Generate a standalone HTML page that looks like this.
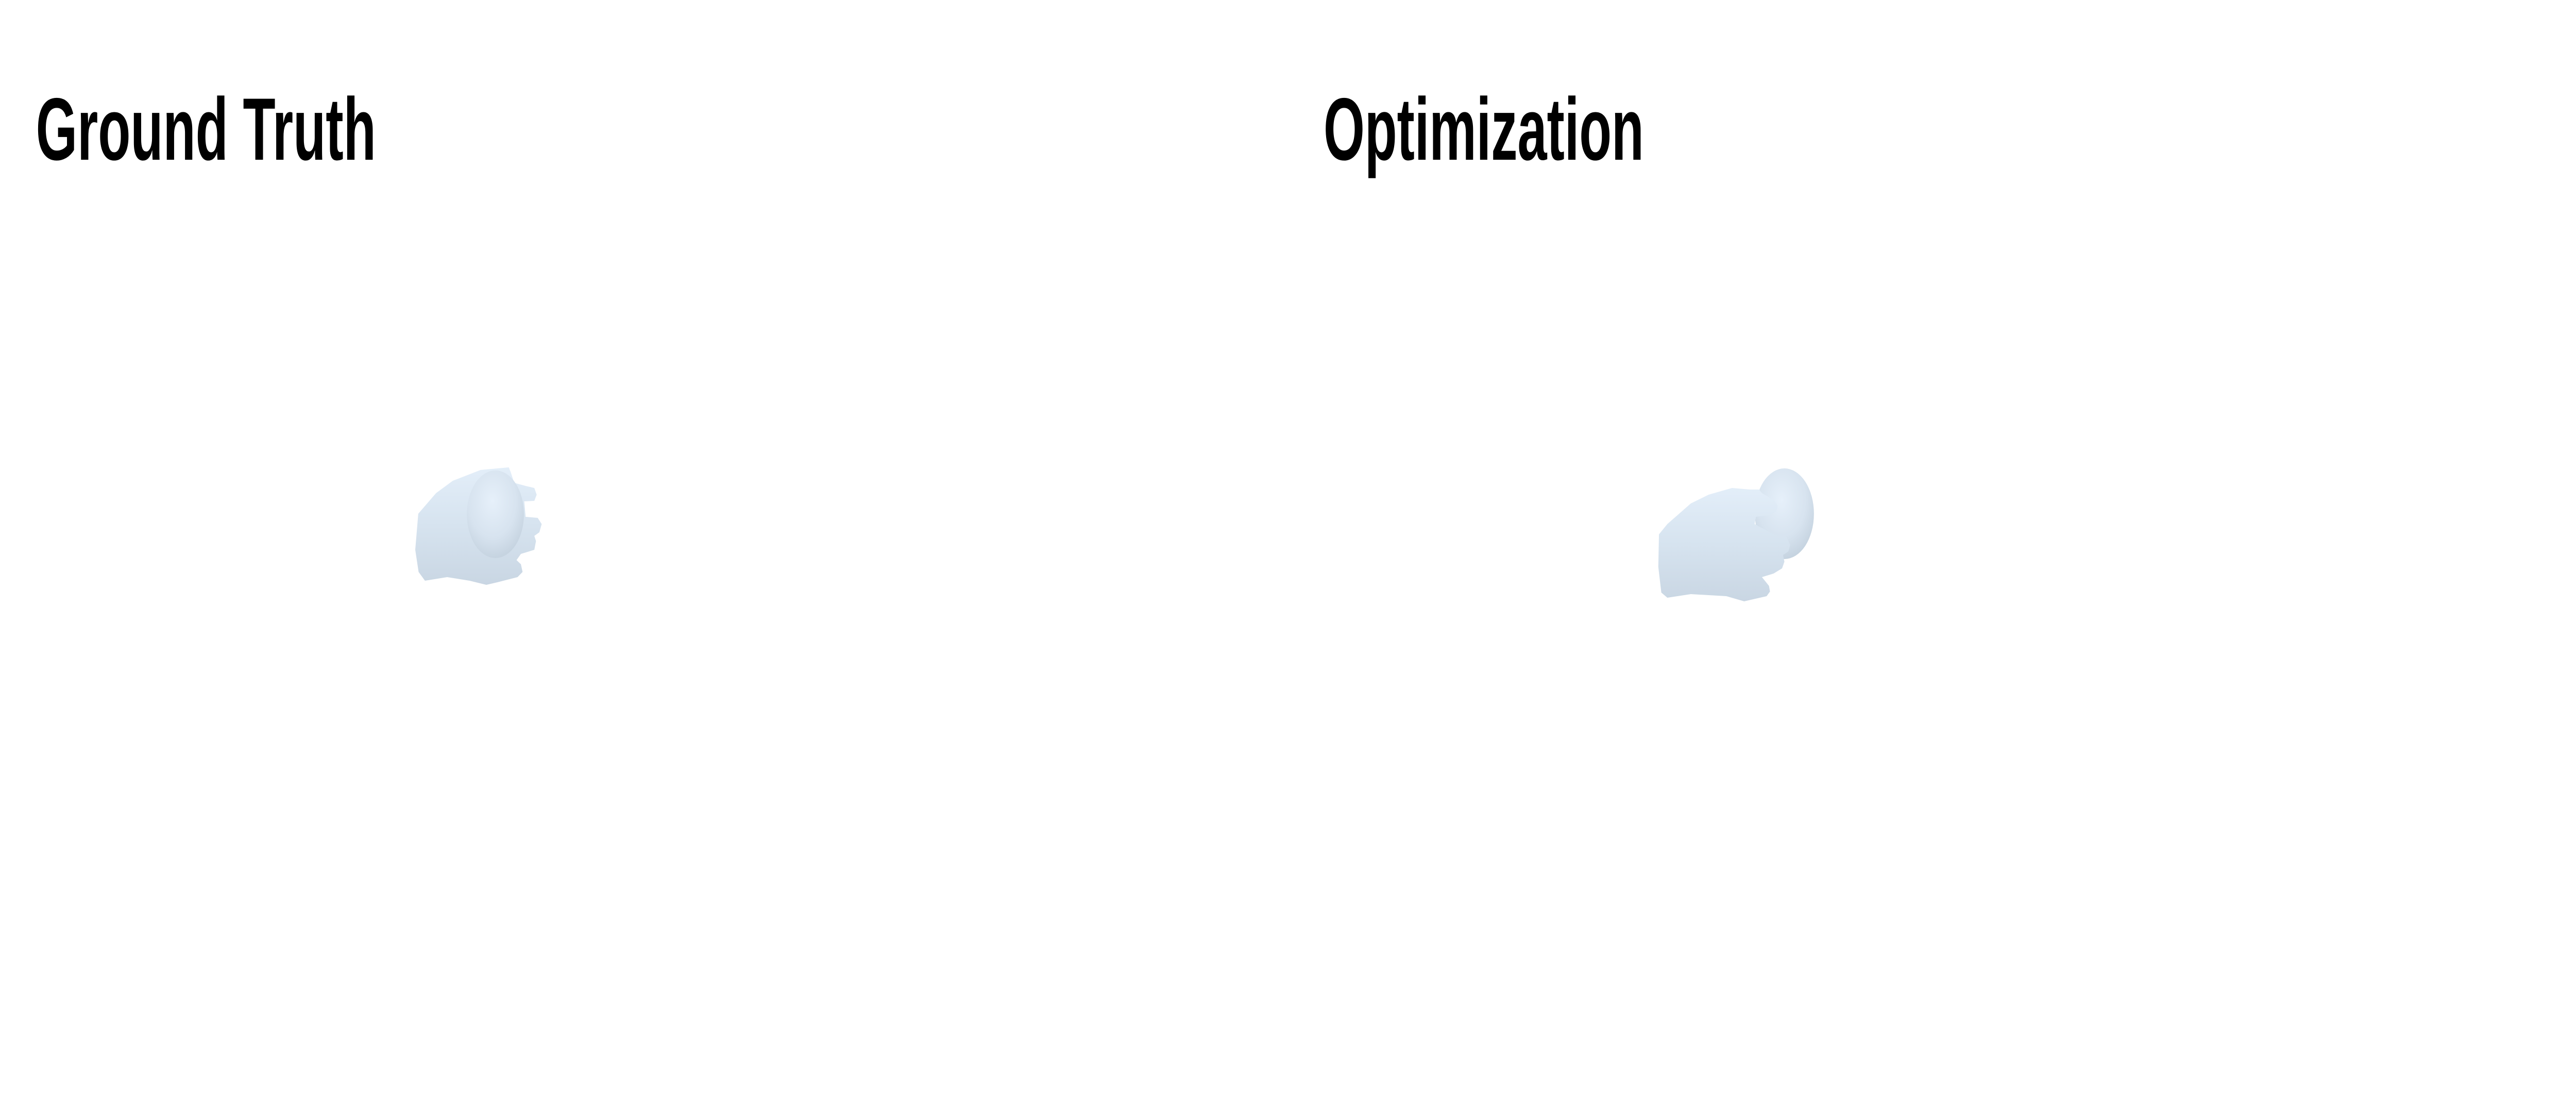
<!DOCTYPE html>
<html>
<head>
<meta charset="utf-8">
<style>
html,body{margin:0;padding:0;background:#fff;width:100vw;height:100vh;overflow:hidden;}
svg{display:block;width:100vw;height:100vh;}
</style>
</head>
<body>
<svg viewBox="0 0 7680 2160" preserveAspectRatio="none" xmlns="http://www.w3.org/2000/svg">
<defs>
<linearGradient id="handGrad" x1="0" y1="0" x2="0" y2="1">
<stop offset="0" stop-color="#e3eef9"/>
<stop offset="0.5" stop-color="#d6e3ef"/>
<stop offset="1" stop-color="#c9d6e3"/>
</linearGradient>
<radialGradient id="ballGrad" cx="0.45" cy="0.35" r="0.7">
<stop offset="0" stop-color="#e6f0fa"/>
<stop offset="0.6" stop-color="#d7e3ef"/>
<stop offset="1" stop-color="#c2d0dd"/>
</radialGradient>
</defs>
<rect x="0" y="0" width="7680" height="2160" fill="#ffffff"/>

<text x="107" y="310" font-family="Liberation Sans, sans-serif" font-weight="bold" font-size="172" textLength="1014" lengthAdjust="spacingAndGlyphs" fill="#000">Ground Truth</text>
<text x="3946" y="310" font-family="Liberation Sans, sans-serif" font-weight="bold" font-size="172" textLength="955" lengthAdjust="spacingAndGlyphs" fill="#000">Optimization</text>

<g>
<polygon fill="url(#handGrad)" points="1247,997 1300,957 1350,933 1433,912 1517,907 1523,917 1533,937 1567,943 1593,947 1600,960 1593,972 1563,973 1567,1003 1603,1005 1615,1017 1608,1033 1593,1040 1598,1050 1593,1067 1553,1075 1540,1087 1553,1095 1558,1110 1543,1120 1483,1130 1450,1135 1400,1127 1333,1120 1267,1127 1248,1110 1238,1067"/>
<circle cx="1477" cy="998" r="85" fill="url(#ballGrad)"/>
</g>

<g>
<circle cx="5320" cy="997" r="88" fill="url(#ballGrad)"/>
<polygon fill="url(#handGrad)" points="4946,1037 4971,1017 5041,977 5094,960 5164,947 5217,950 5244,950 5253,957 5291,972 5300,982 5295,993 5274,1000 5235,1003 5231,1017 5288,1037 5327,1043 5337,1057 5332,1070 5316,1077 5320,1090 5313,1103 5288,1113 5253,1120 5274,1137 5277,1148 5267,1157 5200,1167 5147,1157 5041,1153 4971,1160 4953,1150 4944,1100"/>
</g>
</svg>
</body>
</html>
